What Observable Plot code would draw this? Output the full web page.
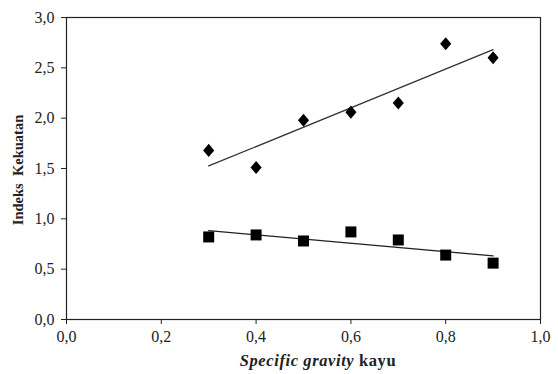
<!DOCTYPE html>
<html>
<head>
<meta charset="utf-8">
<script src="https://cdn.jsdelivr.net/npm/d3@7"></script>
<script src="https://cdn.jsdelivr.net/npm/@observablehq/plot@0.6"></script>
<style>
  html, body { margin: 0; padding: 0; background: #fff; }
  #chart { width: 558px; height: 374px; }
  #chart svg, #chart svg text { font-family: "Liberation Serif", "DejaVu Serif", serif !important; }
</style>
</head>
<body>
<div id="chart"></div>
<script>
const gravity = [0.3, 0.4, 0.5, 0.6, 0.7, 0.8, 0.9];
const seriesDiamond = [1.68, 1.51, 1.98, 2.06, 2.15, 2.74, 2.60];
const seriesSquare = [0.82, 0.84, 0.78, 0.87, 0.79, 0.64, 0.56];
const xTicks = [0, 0.2, 0.4, 0.6, 0.8, 1.0];
const yTicks = [0, 0.5, 1.0, 1.5, 2.0, 2.5, 3.0];

const diamondData = gravity.map((g, i) => ({x: g, y: seriesDiamond[i]}));
const squareData = gravity.map((g, i) => ({x: g, y: seriesSquare[i]}));

const fmt = v => d3.format(".1f")(v).replace(".", ",");

// rhombus a bit taller than wide
const rhombus = {
  draw(context, size) {
    const h = Math.sqrt(size / 0.85) / 2;
    const w = h * 0.85;
    context.moveTo(0, -h);
    context.lineTo(w, 0);
    context.lineTo(0, h);
    context.lineTo(-w, 0);
    context.closePath();
  }
};

const font = "Liberation Serif, DejaVu Serif, serif";

const plot = Plot.plot({
  width: 558,
  height: 374,
  marginLeft: 66,
  marginRight: 18,
  marginTop: 17,
  marginBottom: 55,
  style: {fontFamily: font, fontSize: "16px", color: "#222", background: "#fff"},
  x: {domain: [0, 1], ticks: xTicks, tickFormat: fmt, label: null},
  y: {domain: [0, 3], ticks: yTicks, tickFormat: fmt, label: null},
  marks: [
    Plot.frame({stroke: "#222", strokeWidth: 1.2}),
    Plot.axisX({ticks: xTicks, tickFormat: fmt, tickSize: 5, tickPadding: 6, label: null, fontSize: 16}),
    Plot.axisY({ticks: yTicks, tickFormat: fmt, tickSize: 5, tickPadding: 7, label: null, fontSize: 16}),
    Plot.linearRegressionY(diamondData, {x: "x", y: "y", ci: 0, stroke: "#333", strokeWidth: 1.3}),
    Plot.linearRegressionY(squareData, {x: "x", y: "y", ci: 0, stroke: "#222", strokeWidth: 1.3}),
    Plot.dot(diamondData, {x: "x", y: "y", symbol: rhombus, r: 6.8, fill: "#000", stroke: "none"}),
    Plot.dot(squareData, {x: "x", y: "y", symbol: "square", r: 6.2, fill: "#000", stroke: "none"})
  ]
});

document.getElementById("chart").appendChild(plot);

const svg = d3.select(plot);
const xs = plot.scale("x"), ys = plot.scale("y");
const xMid = (xs.range[0] + xs.range[1]) / 2;
const yMid = (ys.range[0] + ys.range[1]) / 2;

const xl = svg.append("text")
  .attr("x", xMid + 15)
  .attr("y", 366)
  .attr("text-anchor", "middle")
  .attr("font-family", font)
  .attr("font-size", 16.5)
  .attr("font-weight", "bold")
  .attr("letter-spacing", "0.6px")
  .attr("fill", "#222");
xl.append("tspan").attr("font-style", "italic").text("Specific gravity");
xl.append("tspan").text(" kayu");

svg.append("text")
  .attr("transform", `translate(23,${yMid + 2}) rotate(-90)`)
  .attr("text-anchor", "middle")
  .attr("font-family", font)
  .attr("font-size", 14.5)
  .attr("font-weight", "bold")
  .attr("fill", "#222")
  .attr("xml:space", "preserve")
  .style("white-space", "pre")
  .text("Indeks  Kekuatan");
</script>
</body>
</html>
